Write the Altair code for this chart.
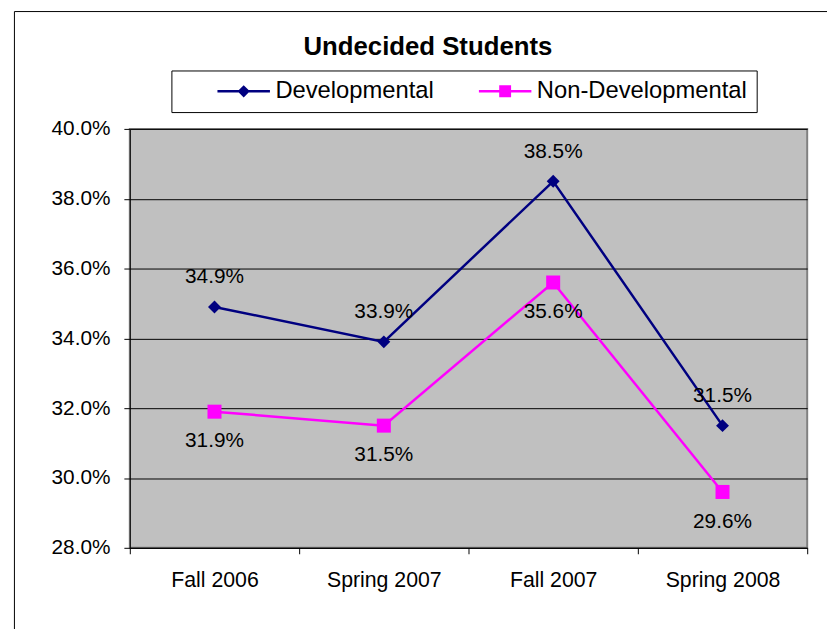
import altair as alt
import pandas as pd

terms = ["Fall 2006", "Spring 2007", "Fall 2007", "Spring 2008"]
developmental = [34.9, 33.9, 38.5, 31.5]
non_developmental = [31.9, 31.5, 35.6, 29.6]
series_names = ["Developmental", "Non-Developmental"]
series_colors = ["#000080", "#FF00FF"]
y_ticks = [28, 30, 32, 34, 36, 38, 40]

rows = []
for s, vals in zip(series_names, [developmental, non_developmental]):
    for t, v in zip(terms, vals):
        rows.append({"term": t, "series": s, "value": v / 100})
df = pd.DataFrame(rows)

FONT = "Arial, Liberation Sans, sans-serif"

x_enc = alt.X(
    "term:N", sort=terms,
    scale=alt.Scale(type="band", paddingInner=0, paddingOuter=0),
    axis=alt.Axis(title=None, tickBand="extent", labelAngle=0, labelFontSize=21.5,
                  labelPadding=16, tickSize=6, domainColor="black", tickColor="black",
                  labelColor="black", labelFont=FONT, grid=False),
)
y_enc = alt.Y(
    "value:Q",
    scale=alt.Scale(domain=[0.28, 0.40], nice=False, zero=False),
    axis=alt.Axis(values=[v / 100 for v in y_ticks], format=".1%", title=None, grid=True,
                  gridColor="black", gridWidth=1, labelFontSize=21, labelPadding=14, tickSize=6,
                  domainColor="black", tickColor="black", labelColor="black", labelFont=FONT),
)
color_scale = alt.Scale(domain=series_names, range=series_colors)

base = alt.Chart(df)

lines = base.mark_line(strokeWidth=2.5).encode(
    x=x_enc, y=y_enc, color=alt.Color("series:N", scale=color_scale, title=None)
)

dev_points = base.transform_filter(alt.datum.series == "Developmental").mark_point(
    shape="diamond", filled=True, size=170, opacity=1, color="#000080"
).encode(x=x_enc, y=y_enc)

non_points = base.transform_filter(alt.datum.series == "Non-Developmental").mark_point(
    shape="square", filled=True, size=200, opacity=1, color="#FF00FF"
).encode(x=x_enc, y=y_enc)

# legend glyphs: line segment with the marker in its middle (unit = 10px)
path_dev = "M-2.65,-0.12H2.65V0.12H-2.65Z M0,-0.62L0.62,0L0,0.62L-0.62,0Z"
path_non = "M-2.65,-0.12H2.65V0.12H-2.65Z M-0.6,-0.6H0.6V0.6H-0.6Z"

NBSP = "\u00a0"

legend_layer = base.mark_point(filled=True, opacity=0).encode(
    x=x_enc, y=y_enc,
    color=alt.Color("series:N", scale=color_scale, title=NBSP),
    shape=alt.Shape("series:N", scale=alt.Scale(domain=series_names, range=[path_dev, path_non]),
                    title=NBSP),
)

dev_text = base.transform_filter(alt.datum.series == "Developmental").mark_text(
    fontSize=21, dy=-30, color="black", font=FONT
).encode(x=x_enc, y=y_enc, text=alt.Text("value:Q", format=".1%"))

non_text = base.transform_filter(alt.datum.series == "Non-Developmental").mark_text(
    fontSize=21, dy=30, color="black", font=FONT
).encode(x=x_enc, y=y_enc, text=alt.Text("value:Q", format=".1%"))

frame = alt.Chart(pd.DataFrame({"k": [0]})).mark_rect(
    fillOpacity=0, stroke="black", strokeWidth=1
).encode(x=alt.value(-116.5), x2=alt.value(1000), y=alt.value(-118.5), y2=alt.value(1000))

chart = alt.layer(frame, lines, dev_points, non_points, legend_layer, dev_text, non_text).properties(
    width=684, height=423,
    autosize=alt.AutoSizeParams(type="none"),
    padding={"left": 123, "top": 119, "right": 20, "bottom": 90},
    title=alt.Title("Undecided Students", fontSize=26, fontWeight="bold", font=FONT,
                    anchor="middle", dx=-41, color="black", baseline="bottom", offset=-75),
).configure(
    font=FONT, background="white"
).configure_view(
    fill="#C0C0C0", stroke="#808080", strokeWidth=2
).configure_legend(
    orient="none", legendX=42, legendY=-59, direction="horizontal",
    strokeColor="black", fillColor="white", padding=9, labelFontSize=24, labelFont=FONT,
    labelColor="black", labelLimit=400, symbolSize=400, symbolStrokeWidth=0, symbolOpacity=1,
    symbolOffset=52, columnPadding=7, labelOffset=20,
    titleOrient="right", titleFontSize=24, titlePadding=12, titleColor="white",
)

chart.save("out.html", embed_options={"renderer": "svg", "actions": False})
